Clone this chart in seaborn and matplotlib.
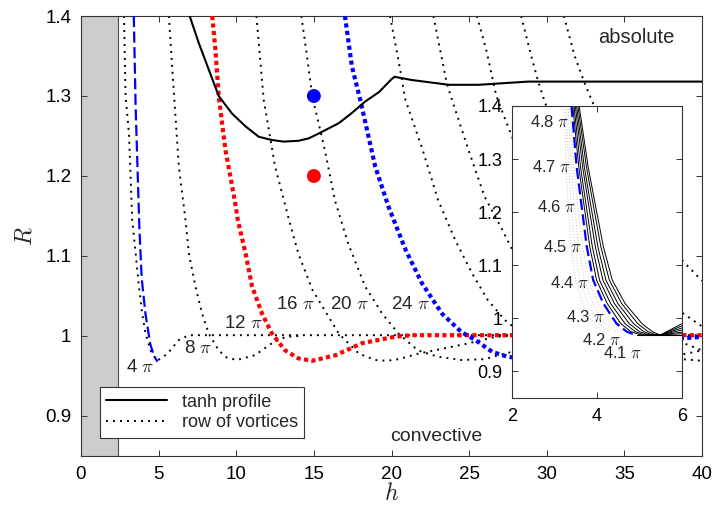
import matplotlib
matplotlib.use("Agg")
import matplotlib.pyplot as plt
import seaborn as sns
from matplotlib.lines import Line2D

# ---------------- data ----------------
# tanh profile boundary (solid black)
tanh_h = [7.0, 7.59, 8.23, 8.87, 9.73, 10.6, 11.45, 12.3, 13.05, 14.0, 14.66, 15.3, 16.6,
          17.4, 18.3, 19.2, 20.0, 20.2, 21.3, 23.7, 25.6, 28.8, 40.0]
tanh_R = [1.400, 1.366, 1.333, 1.300, 1.278, 1.262, 1.249, 1.245, 1.243, 1.244, 1.247, 1.253,
          1.266, 1.278, 1.293, 1.305, 1.321, 1.324, 1.320, 1.314, 1.314, 1.318, 1.318]

# row of vortices, aspect ratios 4pi ... 44pi (black dotted)
v4_h = [2.77, 2.87, 3.09, 3.30, 3.52, 3.73, 3.94, 4.16, 4.48, 4.90, 5.44, 5.66, 6.30, 6.95, 40.0]
v4_R = [1.400, 1.300, 1.253, 1.145, 1.103, 1.062, 1.028, 1.003, 0.982, 0.969, 0.976, 0.980, 0.995, 1.001, 1.001]
v8_h = [5.66, 5.87, 6.30, 6.73, 6.95, 7.37, 7.80, 8.23, 8.87, 9.40, 10.05, 11.20, 12.30, 13.20, 14.0]
v8_R = [1.400, 1.337, 1.212, 1.145, 1.103, 1.062, 1.028, 1.003, 0.982, 0.973, 0.970, 0.976, 0.991, 0.999, 1.000]
v12_h = [8.45, 8.66, 8.87, 9.30, 9.90, 10.10, 10.60, 11.02, 11.66, 12.30, 13.15, 14.00, 14.90,
         16.40, 18.10, 20.20, 21.30, 40.0]
v12_R = [1.400, 1.358, 1.300, 1.233, 1.170, 1.145, 1.103, 1.062, 1.028, 1.003, 0.982, 0.972, 0.969,
         0.976, 0.991, 0.999, 1.001, 1.001]
v16_h = [11.30, 11.77, 12.50, 13.40, 14.00, 14.90, 15.30, 16.60, 17.90, 18.95, 19.70, 20.45,
         21.75, 23.00, 25.00, 26.70, 27.50]
v16_R = [1.400, 1.295, 1.212, 1.145, 1.103, 1.058, 1.045, 1.003, 0.978, 0.970, 0.969, 0.971,
         0.978, 0.983, 0.991, 0.999, 1.000]
v20_h = [14.19, 14.50, 14.90, 15.10, 15.70, 16.35, 17.20, 18.30, 19.40, 20.45, 21.70, 23.00,
         24.50, 26.00, 26.90, 29.0, 31.0, 33.0]
v20_R = [1.400, 1.358, 1.299, 1.283, 1.233, 1.170, 1.116, 1.062, 1.028, 1.003, 0.982, 0.974,
         0.970, 0.971, 0.976, 0.986, 0.995, 1.000]
v24_h = [17.00, 17.45, 17.99, 18.95, 19.80, 20.90, 21.96, 23.25, 24.50, 25.40, 26.50, 27.50,
         29.8, 32.0, 35.0, 38.0, 40.0]
v24_R = [1.400, 1.337, 1.295, 1.212, 1.162, 1.108, 1.066, 1.028, 1.005, 0.995, 0.980, 0.974,
         0.969, 0.972, 0.985, 0.996, 0.999]
v28_h = [19.90, 20.40, 20.90, 22.00, 23.00, 24.10, 25.20, 26.20, 27.30, 28.6, 30.0, 32.0, 34.5, 37.0, 39.0, 40.0]
v28_R = [1.400, 1.350, 1.295, 1.233, 1.170, 1.120, 1.078, 1.045, 1.020, 1.000, 0.985, 0.973,
         0.969, 0.972, 0.978, 0.982]
v32_h = [22.70, 23.56, 23.90, 24.95, 26.00, 27.10, 28.5, 30.0, 31.5, 33.0, 35.0, 37.5, 40.0]
v32_R = [1.400, 1.316, 1.295, 1.233, 1.174, 1.134, 1.080, 1.045, 1.020, 1.003, 0.985, 0.973, 0.969]
v36_h = [25.5, 26.1, 26.75, 27.5, 28.1, 29.0, 30.0, 32.0, 35.0, 37.0, 40.0]
v36_R = [1.400, 1.358, 1.300, 1.262, 1.233, 1.190, 1.150, 1.090, 1.030, 1.005, 0.982]
v40_h = [28.35, 29.0, 29.45, 29.9, 31.2, 33.2, 35.5, 36.9, 38.8, 40.0]
v40_R = [1.400, 1.350, 1.318, 1.291, 1.233, 1.170, 1.103, 1.062, 1.028, 1.012]
v44_h = [31.1, 31.8, 32.4, 33.0, 34.2, 36.3, 38.7, 39.85, 40.0]
v44_R = [1.400, 1.350, 1.318, 1.290, 1.233, 1.170, 1.095, 1.072, 1.069]

# blue dashed curve (4pi) - used in main plot and inset
b4_h = [3.40, 3.52, 3.64, 3.76, 3.91, 4.15, 4.46, 4.70, 4.93]
b4_R = [1.400, 1.286, 1.210, 1.135, 1.072, 1.028, 0.990, 0.975, 0.968]

# inset: thin solid curves 4.1pi ... 4.8pi
in_R = [1.400, 1.286, 1.210, 1.135, 1.072, 1.028, 0.990, 0.975, 0.969, 0.969]
in_k1 = [3.43, 3.57, 3.70, 3.83, 3.99, 4.24, 4.56, 4.80, 5.02, 5.50]
in_k2 = [3.46, 3.61, 3.75, 3.89, 4.06, 4.32, 4.66, 4.90, 5.11, 5.50]
in_k3 = [3.49, 3.66, 3.81, 3.96, 4.14, 4.41, 4.76, 5.00, 5.20, 5.50]
in_k4 = [3.52, 3.70, 3.86, 4.02, 4.21, 4.49, 4.86, 5.10, 5.29, 5.50]
in_k5 = [3.55, 3.75, 3.92, 4.09, 4.29, 4.58, 4.96, 5.20, 5.38, 5.50]
in_k6 = [3.58, 3.79, 3.97, 4.15, 4.36, 4.66, 5.06, 5.30, 5.47, 5.50]
in_end_R = [0.990, 0.986, 0.982, 0.978, 0.974, 0.971]
in_flat_h = [4.93, 6.0]
in_flat_R = [0.969, 0.969]
# faint grey dotted guide curves left of the blue curve (inset)
g_R = [1.400, 1.286, 1.210, 1.135, 1.072, 1.028, 0.990, 0.975]
g1_h = [3.36, 3.45, 3.55, 3.66, 3.80, 4.02, 4.32, 4.60]
g2_h = [3.32, 3.39, 3.47, 3.57, 3.70, 3.90, 4.18, 4.45]
g3_h = [3.28, 3.33, 3.40, 3.48, 3.60, 3.78, 4.05, 4.30]
g4_h = [3.24, 3.27, 3.32, 3.39, 3.50, 3.66, 3.92, 4.15]

# points and labels
pt_h = [15, 15]
pt_R = [1.3, 1.2]
pt_colors = ["#0000ff", "#ff0000"]

main_lab = ["4", "8", "12", "16", "20", "24"]
main_lab_h = [3.84, 7.55, 10.44, 13.83, 17.29, 21.19]
main_lab_R = [0.961, 0.985, 1.016, 1.039, 1.040, 1.040]
in_lab = ["4.8", "4.7", "4.6", "4.5", "4.4", "4.3", "4.2", "4.1"]
in_lab_h = [2.89, 2.93, 3.05, 3.19, 3.36, 3.74, 4.10, 4.60]
in_lab_R = [1.370, 1.284, 1.209, 1.135, 1.066, 1.0025, 0.959, 0.935]

x_ticks = [0, 5, 10, 15, 20, 25, 30, 35, 40]
y_ticks = [0.9, 1.0, 1.1, 1.2, 1.3, 1.4]
y_tick_labels = ["0.9", "1", "1.1", "1.2", "1.3", "1.4"]
in_x_ticks = [2, 4, 6]

# ---------------- style ----------------
sns.set_theme(style="white")
plt.rcParams["font.family"] = ["Liberation Sans", "DejaVu Sans"]
plt.rcParams["mathtext.fontset"] = "cm"
plt.rcParams["axes.edgecolor"] = "0.2"
plt.rcParams["axes.linewidth"] = 0.8

DOT = (0, (1, 2.6))
THICK_DOT = (0, (1, 0.8))
DASH = (0, (5, 2))


def draw(ax, h, R, **kw):
    sns.lineplot(x=h, y=R, ax=ax, sort=False, estimator=None, **kw)


def style_axes(ax, fs):
    ax.tick_params(direction="in", length=4, width=0.7, top=True, right=True,
                   labelsize=fs, colors="0.2", labelcolor="black", pad=7,
                   bottom=True, left=True)


fig = plt.figure(figsize=(7.13, 5.12), dpi=100)
ax = fig.add_axes([81 / 713, 56 / 512, 621 / 713, 440 / 512])

ax.axvspan(0, 2.4, facecolor="#cccccc", edgecolor="none", zorder=0)
ax.axvline(2.4, color="0.3", lw=0.8, zorder=1)

for h, R in [(v4_h, v4_R), (v8_h, v8_R), (v16_h, v16_R), (v20_h, v20_R),
             (v28_h, v28_R), (v32_h, v32_R), (v36_h, v36_R), (v40_h, v40_R), (v44_h, v44_R)]:
    draw(ax, h, R, color="black", lw=1.4, linestyle=DOT, zorder=2)

draw(ax, v12_h, v12_R, color="#ff0000", lw=3.0, linestyle=THICK_DOT, zorder=3)
draw(ax, v24_h, v24_R, color="#0000ff", lw=3.0, linestyle=THICK_DOT, zorder=3)
draw(ax, b4_h, b4_R, color="#0000ff", lw=1.6, linestyle=DASH, zorder=3)
draw(ax, tanh_h, tanh_R, color="black", lw=1.5, zorder=4)

sns.scatterplot(x=pt_h, y=pt_R, hue=pt_colors, palette={c: c for c in pt_colors},
                s=100, edgecolor="none", legend=False, ax=ax, zorder=6)

for t, h, R in zip(main_lab, main_lab_h, main_lab_R):
    ax.text(h, R, t + r" $\pi$", fontsize=13.5, ha="center", va="center", zorder=5)

ax.text(35.8, 1.3725, "absolute", fontsize=14.5, ha="center", va="center")
ax.text(22.86, 0.874, "convective", fontsize=14, ha="center", va="center")

ax.set_xlim(0, 40)
ax.set_ylim(0.85, 1.4)
ax.set_xticks(x_ticks)
ax.set_xticklabels([str(v) for v in x_ticks])
ax.set_yticks(y_ticks)
ax.set_yticklabels(y_tick_labels)
style_axes(ax, 13.5)
ax.set_xlabel("$h$", fontsize=17, labelpad=0)
ax.set_ylabel("$R$", fontsize=17, labelpad=6)

handles = [Line2D([], [], color="black", lw=1.5),
           Line2D([], [], color="black", lw=1.4, linestyle=DOT)]
leg = ax.legend(handles, ["tanh profile", "row of vortices"], loc="lower left",
                bbox_to_anchor=(0.03, 0.042), borderaxespad=0, fontsize=13,
                fancybox=False, framealpha=1, edgecolor="0.2", handlelength=3.4,
                borderpad=0.35, labelspacing=0.2, handletextpad=0.8)
leg.get_frame().set_linewidth(0.8)
leg.set_zorder(7)

# ---------------- inset ----------------
axi = fig.add_axes([512 / 713, 114 / 512, 170 / 713, 292 / 512], zorder=5)
axi.set_facecolor("white")
for gh in [g1_h, g2_h, g3_h, g4_h]:
    draw(axi, gh, g_R, color="0.78", lw=0.7, linestyle=(0, (1, 2)), zorder=1)
for hk, Rend in zip([in_k1, in_k2, in_k3, in_k4, in_k5, in_k6], in_end_R):
    draw(axi, hk + [6.0], in_R + [Rend], color="black", lw=0.7, zorder=2)
draw(axi, in_flat_h, in_flat_R, color="black", lw=0.8, zorder=2)
draw(axi, b4_h, b4_R, color="#0000ff", lw=1.6, linestyle=DASH, zorder=3)
for t, h, R in zip(in_lab, in_lab_h, in_lab_R):
    axi.text(h, R, t + r" $\pi$", fontsize=12, ha="center", va="center", zorder=5)
axi.set_xlim(2, 6)
axi.set_ylim(0.85, 1.4)
axi.set_xticks(in_x_ticks)
axi.set_xticklabels([str(v) for v in in_x_ticks])
axi.set_yticks(y_ticks)
axi.set_yticklabels(y_tick_labels)
style_axes(axi, 13)
axi.set_xlabel("")
axi.set_ylabel("")

fig.savefig("out.png", dpi=100)
